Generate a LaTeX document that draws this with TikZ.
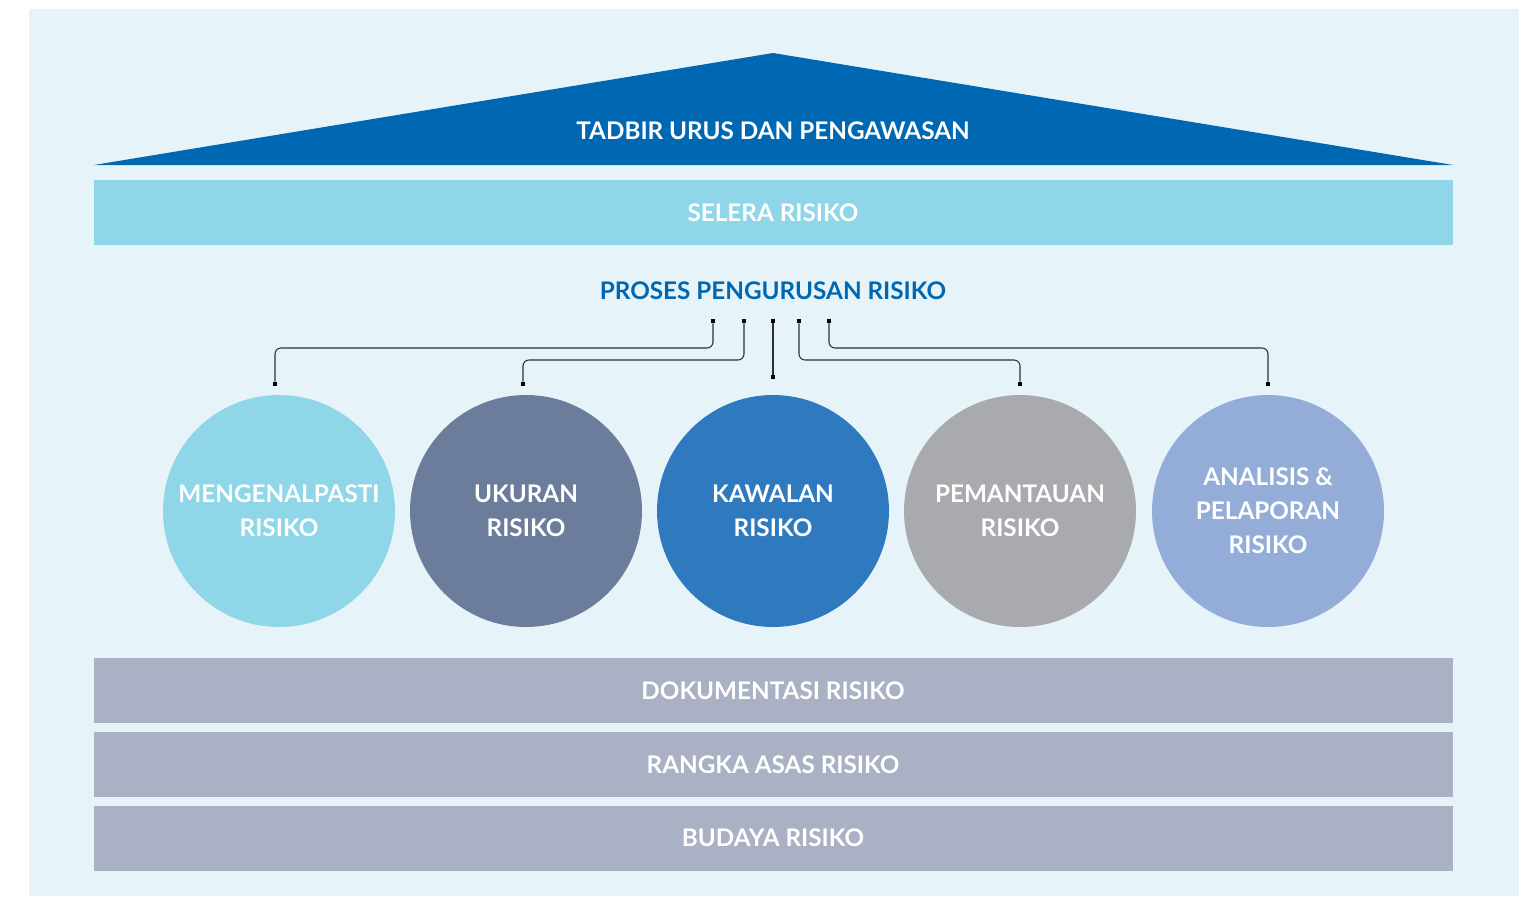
\documentclass[tikz,border=0pt]{standalone}
\usepackage{fontspec}
\setmainfont{Lato}
\usetikzlibrary{positioning}

\definecolor{bgblue}{HTML}{E6F4F9}
\definecolor{roofblue}{HTML}{0068B3}
\definecolor{skyblue}{HTML}{8FD6E8}
\definecolor{slateblue}{HTML}{6B7D9B}
\definecolor{midblue}{HTML}{2F7ABF}
\definecolor{midgrey}{HTML}{A8AAAE}
\definecolor{paleblue}{HTML}{93ACD8}
\definecolor{bandgrey}{HTML}{AAB1C4}
\definecolor{linegrey}{HTML}{2E2E2E}

\begin{document}
\begin{tikzpicture}[x=0.75pt,y=-0.75pt,node distance=6.2pt]
    \tikzstyle{band} = [rectangle, fill=bandgrey, minimum width=1019.25pt, minimum height=48.75pt, inner sep=0pt, text=white, font=\bfseries\fontsize{18.2}{21}\selectfont]
    \tikzstyle{stage} = [circle, minimum size=174pt, inner sep=0pt, text=white, align=center, font=\bfseries\fontsize{18.2}{25.5}\selectfont]
    \tikzstyle{endpt} = [rectangle, fill=black, minimum size=3pt, inner sep=0pt]
    \tikzstyle{link} = [draw=linegrey, line width=0.8pt, rounded corners=4.5pt]

    \useasboundingbox (0,0) rectangle (1527,896);
    \fill[bgblue] (29,9) rectangle (1519,896);

    % roof
    \fill[roofblue] (94,165) -- (773,53) -- (1453,165) -- cycle;
    \node[text=white, font=\bfseries\fontsize{18.2}{21}\selectfont] (roof) at (773,131) {TADBIR URUS DAN PENGAWASAN};

    \node[band, fill=skyblue] (appetite) at (773,212.5) {SELERA RISIKO};
    \node[text=roofblue, font=\bfseries\fontsize{18.2}{21}\selectfont] (process) at (773,291) {PROSES PENGURUSAN RISIKO};

    % process circles
    \node[stage, fill=skyblue] (identify) at (279,511) {MENGENALPASTI\\RISIKO};
    \node[stage, fill=slateblue] (measure) at (526,511) {UKURAN\\RISIKO};
    \node[stage, fill=midblue] (control) at (773,511) {KAWALAN\\RISIKO};
    \node[stage, fill=midgrey] (monitor) at (1020,511) {PEMANTAUAN\\RISIKO};
    \node[stage, fill=paleblue] (report) at (1268,511) {ANALISIS \&\\PELAPORAN\\RISIKO};

    % connectors
    \node[endpt] (t1) at (713,321) {};
    \node[endpt] (t2) at (744,321) {};
    \node[endpt] (t3) at (773,321) {};
    \node[endpt] (t4) at (799,321) {};
    \node[endpt] (t5) at (829,321) {};
    \node[endpt] (b1) at (275,384) {};
    \node[endpt] (b2) at (523,384) {};
    \node[endpt] (b3) at (773,377) {};
    \node[endpt] (b4) at (1020,384) {};
    \node[endpt] (b5) at (1268,384) {};

    \draw[link] (t1) -- ++(0,27) -| (b1);
    \draw[link] (t2) -- ++(0,39) -| (b2);
    \draw[link] (t3) -- (b3);
    \draw[link] (t4) -- ++(0,39) -| (b4);
    \draw[link] (t5) -- ++(0,27) -| (b5);

    % base bands
    \node[band] (docs) at (773,690.5) {DOKUMENTASI RISIKO};
    \node[band, below=of docs] (framework) {RANGKA ASAS RISIKO};
    \node[band, below=of framework] (culture) {BUDAYA RISIKO};
\end{tikzpicture}
\end{document}
